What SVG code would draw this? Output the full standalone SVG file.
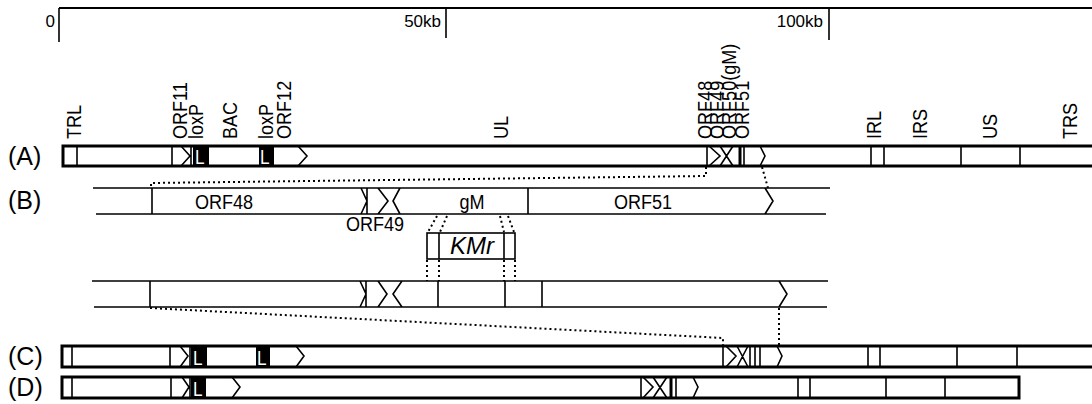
<svg xmlns="http://www.w3.org/2000/svg" width="1092" height="404" viewBox="0 0 1092 404">
<style>
text{font-family:"Liberation Sans",Arial,sans-serif;fill:#000}
.lab{font-size:21px}
.row{font-size:25px}
.sc{font-size:17px}
.in{font-size:21px;text-anchor:middle}
.box{fill:#fff;stroke:#000;stroke-width:3}
.ln{stroke:#000;stroke-width:1.6;fill:none}
.thk{stroke:#000;stroke-width:3;fill:none}
.dot{stroke:#000;stroke-width:2;stroke-dasharray:2 3;fill:none}
.blk{fill:#000}
.L{fill:#fff;font-size:20px}
</style>
<rect width="1092" height="404" fill="#fff"/>
<g id="scale">
<line class="ln" x1="59" y1="8" x2="1092" y2="8" style="stroke-width:2"/>
<line class="ln" x1="59" y1="8" x2="59" y2="42"/>
<line class="ln" x1="446" y1="8" x2="446" y2="38"/>
<line class="ln" x1="829" y1="8" x2="829" y2="40"/>
<text class="sc" x="55" y="27" text-anchor="end">0</text>
<text class="sc" x="441" y="27" text-anchor="end">50kb</text>
<text class="sc" x="823" y="27" text-anchor="end">100kb</text>
</g>
<g id="labels" class="lab">
<text transform="translate(81,139) rotate(-90) scale(0.86,1)">TRL</text>
<text transform="translate(187,139) rotate(-90) scale(0.86,1)">ORF11</text>
<text transform="translate(203,139) rotate(-90) scale(0.86,1)">loxP</text>
<text transform="translate(237,139) rotate(-90) scale(0.86,1)">BAC</text>
<text transform="translate(273,139) rotate(-90) scale(0.86,1)">loxP</text>
<text transform="translate(291,139) rotate(-90) scale(0.86,1)">ORF12</text>
<text transform="translate(508,139) rotate(-90) scale(0.86,1)">UL</text>
<text transform="translate(712,139) rotate(-90) scale(0.86,1)">ORF48</text>
<text transform="translate(724,139) rotate(-90) scale(0.86,1)">ORF49</text>
<text transform="translate(736,139) rotate(-90) scale(0.86,1)">ORF50(gM)</text>
<text transform="translate(749,139) rotate(-90) scale(0.86,1)">ORF51</text>
<text transform="translate(881,139) rotate(-90) scale(0.86,1)">IRL</text>
<text transform="translate(927,139) rotate(-90) scale(0.86,1)">IRS</text>
<text transform="translate(997,139) rotate(-90) scale(0.86,1)">US</text>
<text transform="translate(1077,139) rotate(-90) scale(0.86,1)">TRS</text>
</g>
<g id="trackA">
<text class="row" x="8" y="165">(A)</text>
<rect class="box" x="63" y="146" width="1040" height="20"/>
<path class="ln" d="M77,146V166M172,146V166M181,146L190,156L181,166M191,146V166M298,146L307,156L298,166M707,146V166M709,146L720,156L709,166M720,146L733,166M733,146L720,166M744,146V166M760,146L765,156L760,166M871,146V166M884,146V166M961,146V166M1020,146V166"/>
<path class="thk" d="M740,146V166"/>
<rect class="blk" x="193" y="146" width="16" height="20"/>
<text class="L" transform="translate(195,164) scale(0.86,1)">L</text>
<rect class="blk" x="259" y="146" width="15" height="20"/>
<text class="L" transform="translate(260,164) scale(0.86,1)">L</text>
</g>
<g id="trackB">
<text class="row" x="8" y="209">(B)</text>
<path class="ln" d="M93,188H830M96,214H826M152,188V214M361,188L367,201L361,214M367,188V214M378,188L388,201L378,214M400,188L393,201L400,214M528,188V214M765,188L773,201L765,214"/>
<text class="in" transform="translate(224,209) scale(0.86,1)">ORF48</text>
<text class="in" transform="translate(375,231) scale(0.86,1)">ORF49</text>
<text class="in" transform="translate(472,209) scale(0.86,1)">gM</text>
<text class="in" transform="translate(643,209) scale(0.86,1)">ORF51</text>
</g>
<g id="kmr">
<rect class="ln" x="427" y="233" width="88" height="26"/>
<path class="ln" d="M439,233V259M504,233V259"/>
<text x="472" y="254" font-size="24" font-style="italic" text-anchor="middle">KMr</text>
</g>
<g id="trackB2">
<path class="ln" d="M92,281H828M94,307H827M150,281V307M360,281L366,294L360,307M366,281V307M378,281L387,294L378,307M402,281L393,294L402,307M438,281V307M505,281V307M542,281V307M779,281L787,294L779,307"/>
</g>
<g id="trackC">
<text class="row" x="8" y="365">(C)</text>
<rect class="box" x="62" y="346" width="1040" height="21"/>
<path class="ln" d="M72,346V367M170,346V367M180,346L188,356L180,367M190,346V367M296,346L304,356L296,367M723,346V367M726,346L736,356L726,367M737,346L748,367M748,346L737,367M750,346V367M755,346V367M760,346V367M777,346L782,356L777,367M868,346V367M880,346V367M957,346V367M1017,346V367"/>
<rect class="blk" x="191" y="346" width="16" height="21"/>
<text class="L" transform="translate(193,365) scale(0.86,1)">L</text>
<rect class="blk" x="256" y="346" width="14" height="21"/>
<text class="L" transform="translate(257,365) scale(0.86,1)">L</text>
</g>
<g id="trackD">
<text class="row" x="8" y="396">(D)</text>
<rect class="box" x="62" y="377" width="957" height="21"/>
<path class="ln" d="M72,377V398M171,377V398M182,377L189,387L182,398M190,377V398M232,377L240,387L232,398M641,377V398M643,377L653,387L643,398M653,377L667,398M667,377L653,398M676,377V398M693,377L698,387L693,398M798,377V398M810,377V398M886,377V398M945,377V398"/>
<path class="thk" d="M671,377V398"/>
<rect class="blk" x="191" y="377" width="15" height="21"/>
<text class="L" transform="translate(193,396) scale(0.86,1)">L</text>
</g>
<g id="connectors">
<path class="dot" d="M706,167V176L151,183V188"/>
<path class="dot" d="M762,167L768,188"/>
<path class="dot" d="M437,216L428,232M447,216L440,232M500,216L504,232M508,216L514,232"/>
<path class="dot" d="M427,260V281M439,260V281M504,260V281M515,260V281"/>
<path class="dot" d="M150,308L723,338V345"/>
<path class="dot" d="M779,308V345"/>
</g>
</svg>
